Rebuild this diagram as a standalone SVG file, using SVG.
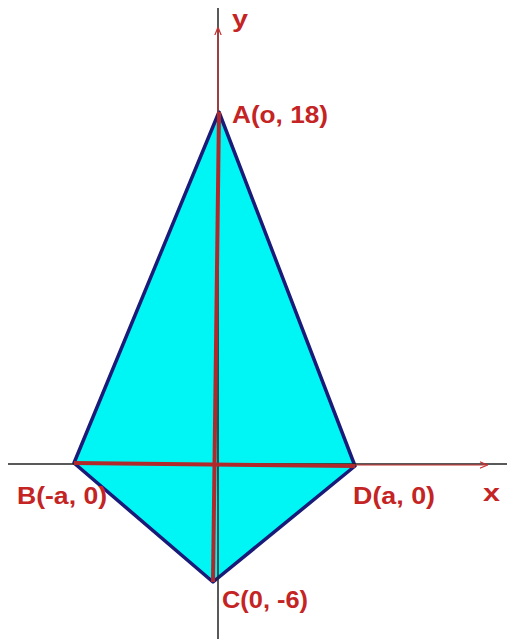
<svg xmlns="http://www.w3.org/2000/svg" width="507" height="639" viewBox="0 0 507 639">
<style>
.axis{stroke:#222;stroke-width:1.5;fill:none}
.thin{stroke:#c83030;stroke-width:1.2;fill:none}
.thick{stroke:#b0282a;stroke-width:4;fill:none}
.lbl{font-family:"Liberation Sans",Arial,sans-serif;font-weight:bold;font-size:23px;fill:#c42424}
</style>
<defs>
<marker id="arr" viewBox="0 0 10 10" refX="9" refY="5" markerWidth="8" markerHeight="8" orient="auto" markerUnits="userSpaceOnUse">
<path d="M0,1 L10,5 L0,9" fill="none" stroke="#c83030" stroke-width="1.5"/>
</marker>
</defs>
<rect width="507" height="639" fill="#fff"/>
<g id="kite">
<polygon points="219,112 355,466 213,582 74,463" fill="#00f5f5" stroke="#1a1a78" stroke-width="3.5" stroke-linejoin="round"/>
</g>
<g id="connectors">
<line class="axis" x1="8" y1="464" x2="507" y2="464"/>
<line class="axis" x1="218" y1="8" x2="218" y2="639"/>
<line class="thin" x1="355" y1="465" x2="487" y2="465" marker-end="url(#arr)"/>
<line class="thin" x1="218" y1="112" x2="218" y2="28" marker-end="url(#arr)"/>
<line class="thick" x1="74" y1="463" x2="355" y2="466"/>
<line class="thick" x1="219" y1="112" x2="213" y2="582"/>
</g>
<g id="labels">
<text class="lbl" x="232" y="27" textLength="16" lengthAdjust="spacingAndGlyphs">y</text>
<text class="lbl" x="232" y="123" textLength="96" lengthAdjust="spacingAndGlyphs">A(o, 18)</text>
<text class="lbl" x="17" y="504" textLength="90" lengthAdjust="spacingAndGlyphs">B(-a, 0)</text>
<text class="lbl" x="353" y="504" textLength="82" lengthAdjust="spacingAndGlyphs">D(a, 0)</text>
<text class="lbl" x="483" y="501" textLength="17" lengthAdjust="spacingAndGlyphs">x</text>
<text class="lbl" x="222" y="608" textLength="86" lengthAdjust="spacingAndGlyphs">C(0, -6)</text>
</g>
</svg>
